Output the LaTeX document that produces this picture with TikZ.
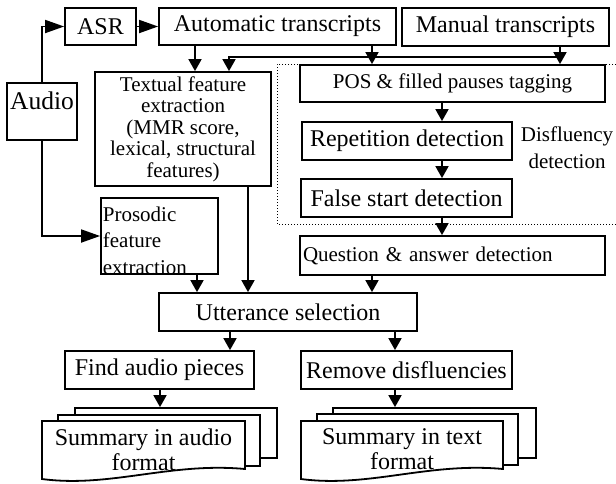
\documentclass[tikz,border=0pt]{standalone}
\usepackage{fontspec}
\setmainfont{Liberation Serif}
\usetikzlibrary{arrows.meta}
\begin{document}
\begin{tikzpicture}[
  x=1pt,y=-1pt,
  line width=1.8pt,
  box/.style={rectangle,draw,inner sep=0pt,font=\fontsize{24}{25}\selectfont},
  small/.style={font=\fontsize{21}{21.5}\selectfont},
  sheet/.style={rectangle,draw,fill=white,inner sep=0pt},
  edge/.style={-{Triangle[length=12pt,width=13pt]}},
  hedge/.style={-{Triangle[length=19pt,width=13pt]}}
]
\useasboundingbox (0,0) rectangle (616,483);
\draw[line width=1pt,dash pattern=on 1pt off 2pt] (616,64) -- (277,64) -- (277,224) -- (616,224);
\node[box,font=\fontsize{25.5}{26}\selectfont,minimum width=70pt,text height=26pt,text depth=31pt] (audio) at (42,111.5) {Audio};
\node[box,minimum width=71pt,minimum height=37pt] (asr) at (100.5,26.5) {ASR};
\node[box,minimum width=237pt,minimum height=37pt] (auto) at (277.5,26.5) {Automatic transcripts};
\node[box,minimum width=207pt,minimum height=38pt] (man) at (505.5,27) {Manual transcripts};
\node[box,small,minimum width=176pt,minimum height=114pt,align=center] (tfe) at (183,129) {Textual feature\\extraction\\(MMR score,\\lexical, structural\\features)};
\node[box,minimum width=117pt,minimum height=76pt] (pros) at (159.5,236) {};
\node[small,font=\fontsize{21}{26.5}\selectfont,align=left,anchor=north west,inner sep=0pt] (prostxt) at (102,206) {Prosodic\\feature\\extraction};
\node[box,small,minimum width=305pt,minimum height=37pt] (pos) at (452.5,83.5) {POS \& filled pauses tagging};
\node[box,minimum width=210pt,minimum height=38pt] (rep) at (407,141) {Repetition detection};
\node[box,minimum width=211pt,minimum height=38pt] (fsd) at (406.5,198) {False start detection};
\node[small,font=\fontsize{21}{27}\selectfont,align=center] (disf) at (567,148) {Disfluency\\detection};
\node[box,small,minimum height=39pt,text width=299pt,inner xsep=3pt,align=left] (qa) at (452.5,255.5) {Question \& answer detection};
\node[box,minimum width=258pt,minimum height=38pt] (utt) at (288,312) {Utterance selection};
\node[box,minimum width=189pt,minimum height=38pt] (find) at (159.5,370) {Find audio pieces};
\node[box,minimum width=211pt,minimum height=38pt] (rem) at (406.5,370) {Remove disfluencies};
% stacked summary sheets
\node[sheet,minimum width=202pt,minimum height=50pt] (sumA3) at (176,433) {};
\node[sheet,minimum width=202pt,minimum height=51pt] (sumA2) at (159,440.5) {};
\draw[fill=white] (42,421) -- (245,421) -- (245,469) .. controls (170,462) and (110,488) .. (42,479) -- cycle;
\node[box,draw=none,align=center] (sumA) at (143.5,449.5) {Summary in audio\\format};
\node[sheet,minimum width=203pt,minimum height=50pt] (sumT3) at (434.5,433) {};
\node[sheet,minimum width=201pt,minimum height=51pt] (sumT2) at (417.5,439.5) {};
\draw[fill=white] (301,421) -- (503,421) -- (503,469) .. controls (428,462) and (369,488) .. (301,479) -- cycle;
\node[box,draw=none,align=center] (sumT) at (402,449.5) {Summary in text\\format};
\coordinate (mj) at (560,57);
\draw[hedge] (audio.north) |- (asr.west);
\draw[hedge] (audio.south) |- (pros.west);
\draw[hedge] (asr) -- (auto);
\draw[edge] (195,0 |- auto.south) -- (195,0 |- tfe.north);
\draw[edge] (372,0 |- auto.south) -- (372,0 |- pos.north);
\draw[edge] (560,0 |- man.south) -- (560,0 |- pos.north);
\draw[edge] (mj) -- (229,57) -- (229,0 |- tfe.north);
\draw[edge] (442,0 |- pos.south) -- (442,0 |- rep.north);
\draw[edge] (442,0 |- rep.south) -- (442,0 |- fsd.north);
\draw[edge] (442,0 |- fsd.south) -- (442,0 |- qa.north);
\draw[edge] (197,0 |- pros.south) -- (197,0 |- utt.north);
\draw[edge] (248,0 |- tfe.south) -- (248,0 |- utt.north);
\draw[edge] (372,0 |- qa.south) -- (372,0 |- utt.north);
\draw[edge] (230,0 |- utt.south) -- (230,0 |- find.north);
\draw[edge] (395,0 |- utt.south) -- (395,0 |- rem.north);
\draw[edge] (160,0 |- find.south) -- (160,0 |- sumA3.north);
\draw[edge] (395,0 |- rem.south) -- (395,0 |- sumT3.north);
\end{tikzpicture}
\end{document}
